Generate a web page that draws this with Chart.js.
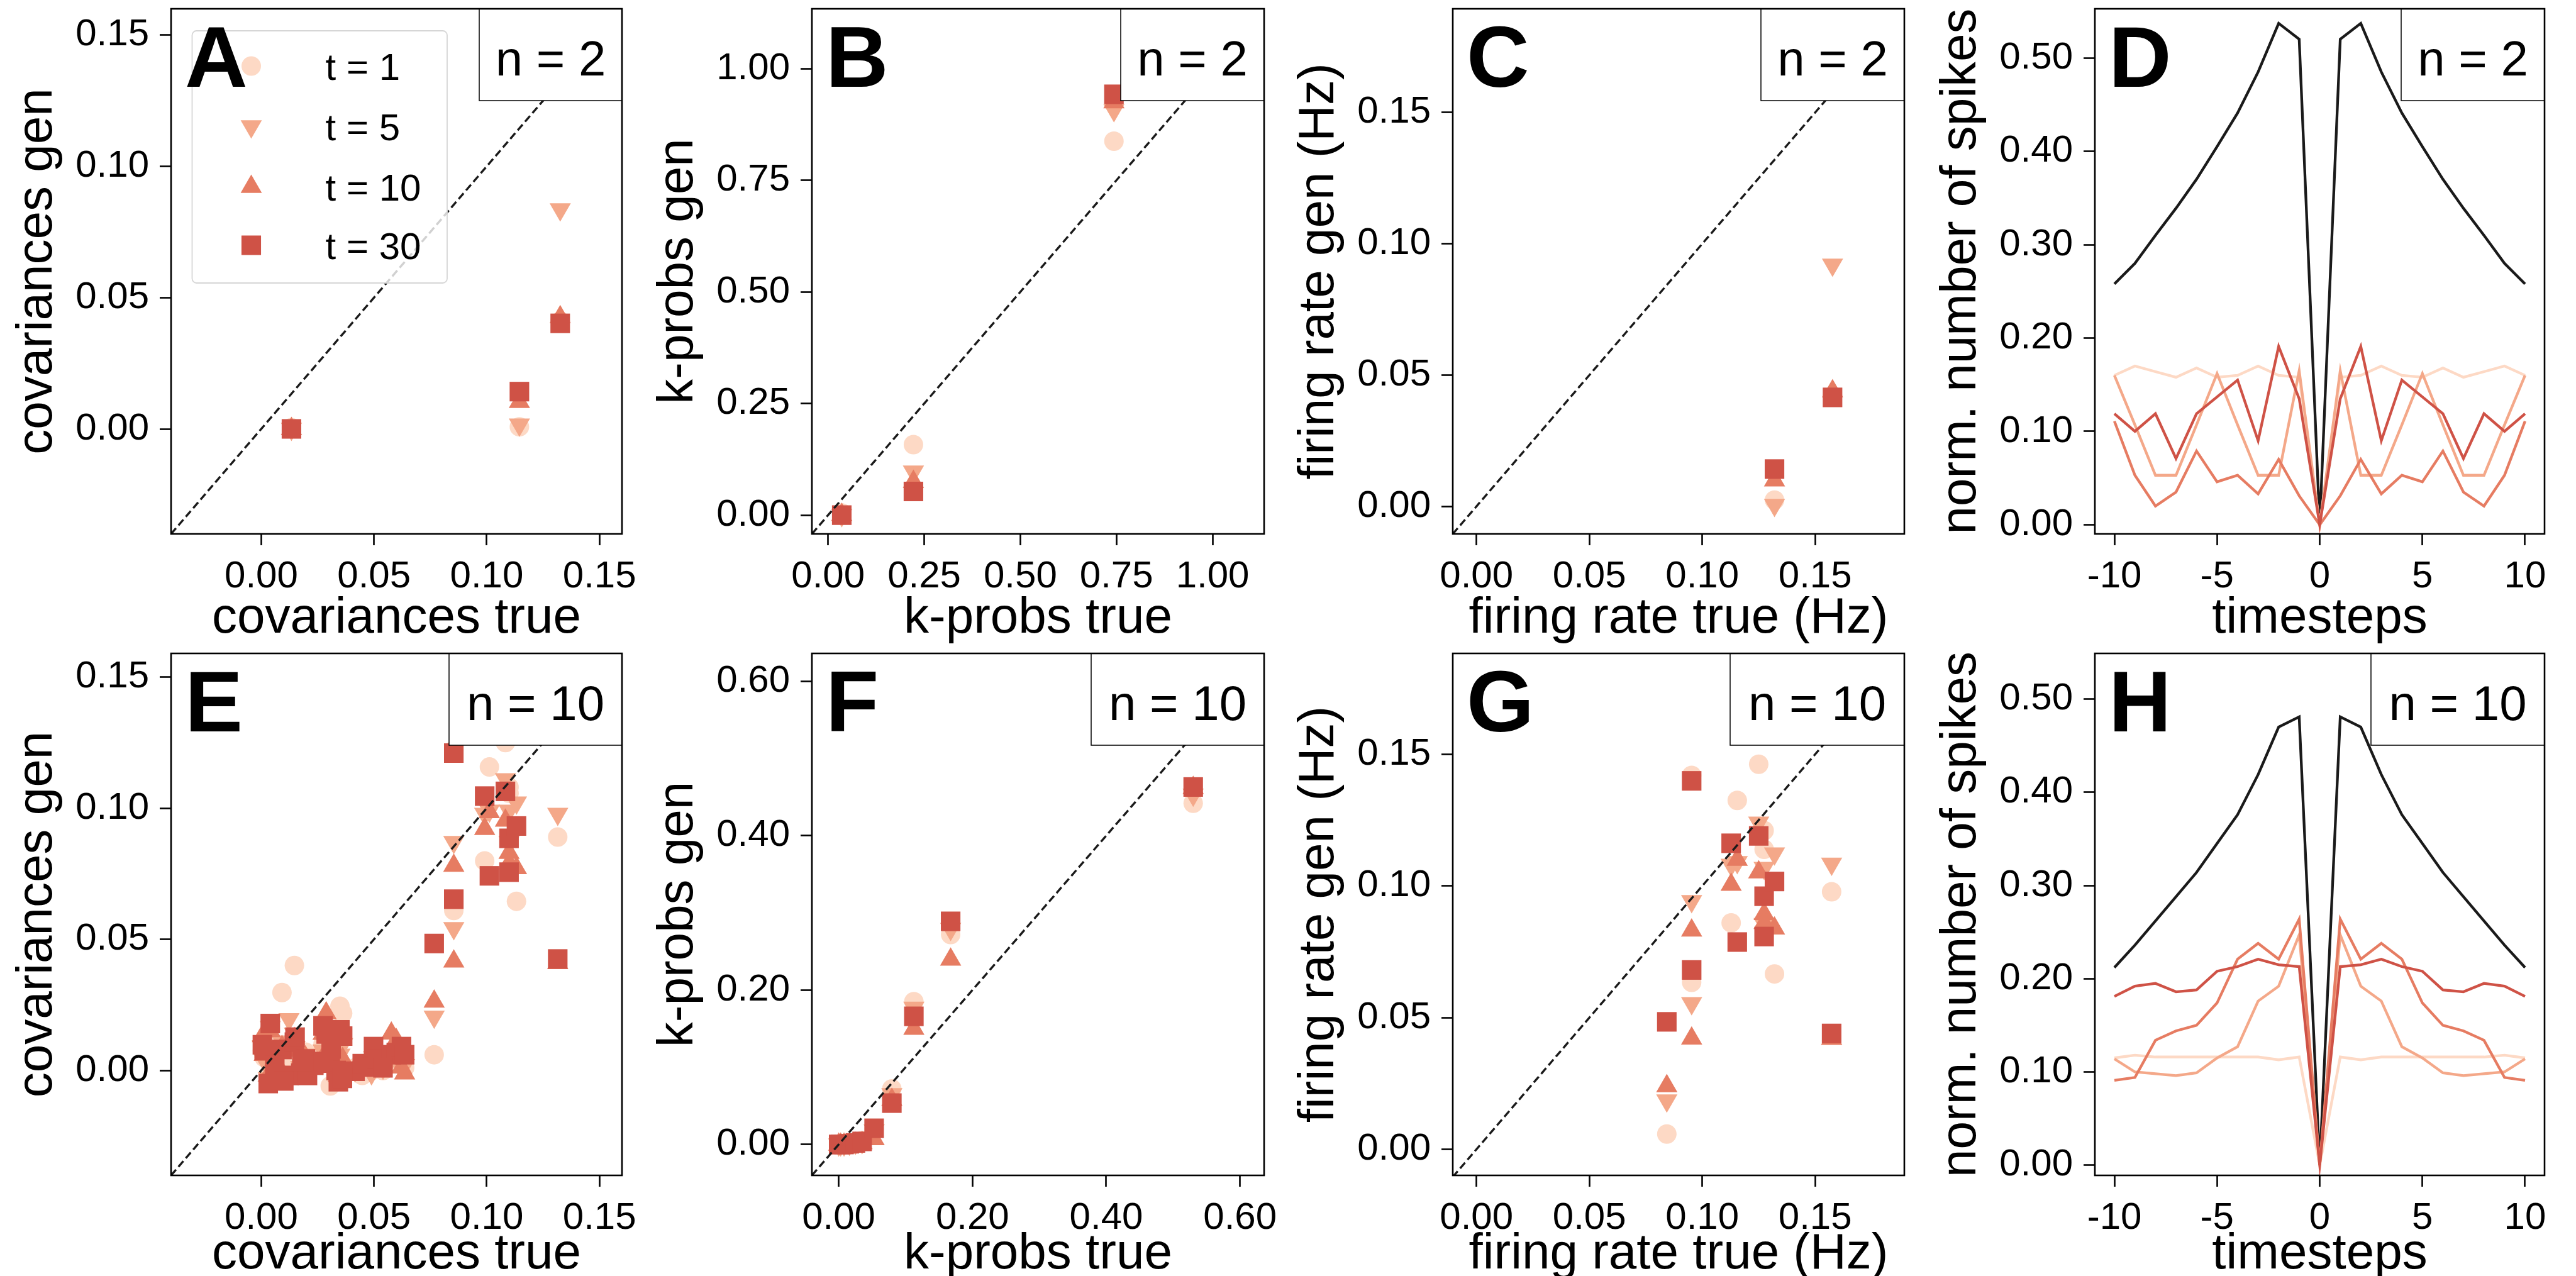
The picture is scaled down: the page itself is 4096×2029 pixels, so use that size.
<!DOCTYPE html>
<html><head><meta charset="utf-8">
<script src="https://cdn.jsdelivr.net/npm/chart.js@4.4.1/dist/chart.umd.min.js"></script>
<style>
html,body{margin:0;padding:0;background:#fff;overflow:hidden;width:4096px;height:2029px;}
#fig{position:relative;width:4096px;height:2029px;overflow:hidden;background:#fff;}
#fig canvas{position:absolute;}
</style>
</head><body><div id="fig"></div>
<script>
// ---------------- DATA ----------------
const seriesNames = ['t = 1', 't = 5', 't = 10', 't = 30'];

// Panel A: covariances, n = 2
const covTrue2   = [0.0134, 0.1145, 0.1326];
const covGen2_t1  = [0.0005, 0.0008, 0.0410];
const covGen2_t5  = [0.0000, 0.0016, 0.0836];
const covGen2_t10 = [0.0000, 0.0103, 0.0426];
const covGen2_t30 = [0.0000, 0.0142, 0.0402];

// Panel B: k-probs, n = 2
const kTrue2   = [0.0356, 0.2220, 0.7435];
const kGen2_t1  = [0.0050, 0.1580, 0.8375];
const kGen2_t5  = [0.0000, 0.0975, 0.9070];
const kGen2_t10 = [0.0010, 0.0750, 0.9250];
const kGen2_t30 = [0.0000, 0.0530, 0.9425];

// Panel C: firing rate, n = 2
const frTrue2   = [0.1320, 0.1577];
const frGen2_t1  = [0.0024, 0.0420];
const frGen2_t5  = [0.0005, 0.0920];
const frGen2_t10 = [0.0099, 0.0439];
const frGen2_t30 = [0.0142, 0.0415];

// Panel D: cross-correlation, n = 2
const timesteps = [-10,-9,-8,-7,-6,-5,-4,-3,-2,-1,0,1,2,3,4,5,6,7,8,9,10];
const ccTrue2 = [0.258,0.280,0.310,0.339,0.370,0.405,0.441,0.485,0.537,0.520,0.000,0.520,0.537,0.485,0.441,0.405,0.370,0.339,0.310,0.280,0.258];
const cc2_t1  = [0.160,0.170,0.164,0.158,0.168,0.158,0.160,0.170,0.160,0.158,0.000,0.158,0.160,0.170,0.160,0.158,0.168,0.158,0.164,0.170,0.160];
const cc2_t5  = [0.160,0.107,0.053,0.053,0.107,0.162,0.107,0.053,0.053,0.165,0.000,0.165,0.053,0.053,0.107,0.162,0.107,0.053,0.053,0.107,0.160];
const cc2_t10 = [0.111,0.053,0.020,0.035,0.079,0.046,0.053,0.033,0.070,0.031,0.000,0.031,0.070,0.033,0.053,0.046,0.079,0.035,0.020,0.053,0.111];
const cc2_t30 = [0.119,0.100,0.119,0.071,0.119,0.137,0.155,0.090,0.191,0.135,0.000,0.135,0.191,0.090,0.155,0.137,0.119,0.071,0.119,0.100,0.119];

// Panel E: covariances, n = 10 (45 pairs)
const covTrue10 = [0.0005,0.0013,0.0031,0.0040,0.0092,0.0123,0.0147,0.0175,0.0196,0.0205,0.0233,0.0274,0.0288,0.0306,0.0332,0.0342,0.0349,0.0361,0.0416,0.0448,0.0489,0.0498,0.0516,0.0577,0.0599,0.0622,0.0636,0.0767,0.0854,0.0854,0.0991,0.1012,0.1083,0.1099,0.1099,0.1132,0.1315,0.0060,0.0100,0.0150,0.0180,0.0274,0.0310,0.0360,0.0540];
const covGen10_t30 = [0.0098,0.0076,-0.0050,0.0179,0.0080,-0.0019,0.0108,-0.0010,0.0044,-0.0019,0.0020,0.0170,0.0139,0.0028,0.0000,-0.0043,0.0155,0.0131,-0.0003,0.0026,0.0013,0.0091,0.0044,0.0060,0.0068,0.0091,0.0060,0.0484,0.1210,0.0653,0.1046,0.0742,0.1064,0.0885,0.0756,0.0932,0.0425,0.0020,-0.0040,0.0127,0.0035,0.0034,0.0082,-0.0030,0.0010];
const covGen10_t10 = [0.0131,0.0060,-0.0019,0.0150,0.0090,0.0076,0.0120,0.0020,0.0050,0.0013,0.0013,0.0140,0.0218,0.0044,0.0020,-0.0020,0.0120,0.0044,0.0005,0.0005,0.0020,0.0060,0.0030,0.0141,0.0116,0.0012,-0.0011,0.0263,0.0781,0.0416,0.0921,0.0985,0.0953,0.0830,0.0790,0.0772,0.0410,0.0040,-0.0020,0.0100,0.0040,0.0050,0.0060,-0.0010,0.0020];
const covGen10_t5  = [0.0092,0.0040,-0.0030,0.0165,0.0110,0.0195,0.0140,0.0013,0.0060,0.0000,0.0030,0.0076,0.0120,0.0050,0.0010,-0.0030,0.0060,0.0100,0.0000,0.0010,-0.0011,0.0050,0.0020,0.0044,0.0044,0.0030,0.0020,0.0205,0.0871,0.0542,0.0978,0.0990,0.1110,0.0990,0.0870,0.1021,0.0978,0.0030,-0.0010,0.0090,0.0050,0.0040,0.0070,0.0000,0.0010];
const covGen10_t1  = [0.0076,0.0050,-0.0020,0.0120,0.0297,0.0040,0.0400,0.0013,0.0070,0.0000,0.0044,0.0100,0.0150,-0.0059,0.0030,-0.0040,0.0245,0.0218,0.0010,-0.0019,0.0000,0.0040,0.0028,0.0050,0.0028,0.0040,0.0010,0.0060,0.1220,0.0610,0.0799,0.1157,0.1250,0.1080,0.1057,0.0645,0.0890,0.0020,0.0000,0.0080,0.0060,0.0030,0.0050,-0.0020,0.0000];

// Panel F: k-probs, n = 10
const kTrue10 = [0.000,0.003,0.008,0.016,0.025,0.035,0.053,0.0795,0.1124,0.1674,0.530];
const kGen10_t1  = [0.000,0.000,0.001,0.002,0.003,0.005,0.020,0.072,0.185,0.272,0.442];
const kGen10_t5  = [0.000,0.000,0.000,0.001,0.002,0.003,0.018,0.065,0.177,0.279,0.453];
const kGen10_t10 = [0.000,0.000,0.000,0.000,0.001,0.002,0.007,0.058,0.150,0.2395,0.462];
const kGen10_t30 = [0.000,0.000,0.000,0.001,0.002,0.004,0.021,0.0536,0.166,0.289,0.463];

// Panel G: firing rate, n = 10
const frTrue10 = [0.0843,0.0953,0.0953,0.1128,0.1155,0.1250,0.1274,0.1274,0.1320,0.1573];
const frGen10_t1  = [0.0058,0.1420,0.0634,0.0860,0.1325,0.1462,0.1210,0.1139,0.0666,0.0978];
const frGen10_t5  = [0.0185,0.0942,0.0555,0.1080,0.1090,0.1240,0.1068,0.0855,0.1123,0.1084];
const frGen10_t10 = [0.0240,0.0831,0.0421,0.1005,0.1100,0.1052,0.0894,0.0860,0.0839,0.0420];
const frGen10_t30 = [0.0484,0.1399,0.0681,0.1162,0.0787,0.1190,0.0961,0.0808,0.1017,0.0440];

// Panel H: cross-correlation, n = 10
const ccTrue10 = [0.212,0.236,0.262,0.288,0.314,0.345,0.376,0.419,0.470,0.481,0.000,0.481,0.470,0.419,0.376,0.345,0.314,0.288,0.262,0.236,0.212];
const cc10_t1  = [0.115,0.118,0.116,0.116,0.116,0.116,0.116,0.116,0.113,0.116,0.000,0.116,0.113,0.116,0.116,0.116,0.116,0.116,0.116,0.118,0.115];
const cc10_t5  = [0.114,0.100,0.098,0.096,0.099,0.115,0.127,0.176,0.192,0.247,0.000,0.247,0.192,0.176,0.127,0.115,0.099,0.096,0.098,0.100,0.114];
const cc10_t10 = [0.091,0.094,0.134,0.144,0.150,0.174,0.221,0.238,0.221,0.264,0.000,0.264,0.221,0.238,0.221,0.174,0.150,0.144,0.134,0.094,0.091];
const cc10_t30 = [0.181,0.192,0.195,0.186,0.188,0.208,0.213,0.221,0.215,0.213,0.000,0.213,0.215,0.221,0.213,0.208,0.188,0.186,0.195,0.192,0.181];

// Tick values
const ticksCov  = [0, 0.05, 0.10, 0.15];
const ticksK2   = [0, 0.25, 0.50, 0.75, 1.00];
const ticksK10  = [0, 0.20, 0.40, 0.60];
const ticksFr   = [0, 0.05, 0.10, 0.15];
const ticksTime = [-10, -5, 0, 5, 10];
const ticksCC   = [0, 0.10, 0.20, 0.30, 0.40, 0.50];

// ---------------- STYLE ----------------
const FONT = "'Liberation Sans', Arial, Helvetica, sans-serif";
const tColors = ['#fdd9c5', '#f4a889', '#e67c62', '#cf5246'];
const trueColor = '#1a1a1a';
const pStyles = ['circle', 'triangle', 'triangle', 'rect'];
const pRot = [0, 180, 0, 0];
const pRad = [15.5, 19.5, 19.5, 22];

const YW = 270, PT = 14, PR = 70, XH = 190;
const colL = [272, 1291, 2310, 3331];
const colR = [989, 2010, 3028, 4046];
const rowT = [14, 1039];
const rowB = [849, 1869];
const xTitlePad = [7, 16];
const BOXH = 146;
const AXW = 2.6;

const fig = document.getElementById('fig');

const decor = {
  id: 'decor',
  afterDatasetsDraw(chart, args, o) {
    const ctx = chart.ctx, a = chart.chartArea;
    ctx.save();
    if (o.legend) {
      const lx0 = a.left + 33.5, ly0 = a.top + 35, lx1 = a.left + 439, ly1 = a.top + 436;
      ctx.beginPath();
      if (ctx.roundRect) ctx.roundRect(lx0, ly0, lx1 - lx0, ly1 - ly0, 7); else ctx.rect(lx0, ly0, lx1 - lx0, ly1 - ly0);
      ctx.fillStyle = 'rgba(255,255,255,0.8)';
      ctx.fill();
      ctx.lineWidth = 1.8; ctx.strokeStyle = '#d6d6d6'; ctx.stroke();
      const ys = [91, 187, 283, 376];
      for (let i = 0; i < 4; i++) {
        ctx.fillStyle = tColors[i];
        ctx.strokeStyle = tColors[i];
        Chart.helpers.drawPoint(ctx, {pointStyle: pStyles[i], rotation: pRot[i], radius: pRad[i], borderWidth: 0}, a.left + 127.5, a.top + ys[i]);
        ctx.fillStyle = '#000';
        ctx.font = '60px ' + FONT;
        ctx.textAlign = 'left'; ctx.textBaseline = 'alphabetic';
        ctx.fillText(seriesNames[i], a.left + 245.6, a.top + ys[i] + 21.5);
      }
    }
    // n box
    const bx = a.right - o.boxW, by = a.top;
    ctx.fillStyle = '#fff';
    ctx.fillRect(bx, by, o.boxW, BOXH);
    ctx.lineWidth = 1.5; ctx.strokeStyle = '#000';
    ctx.strokeRect(bx, by, o.boxW, BOXH);
    ctx.fillStyle = '#000';
    ctx.font = '78px ' + FONT;
    ctx.textAlign = 'center'; ctx.textBaseline = 'alphabetic';
    ctx.fillText(o.nText, bx + o.boxW / 2, by + 106);
    // panel letter
    ctx.font = 'bold 138px ' + FONT;
    ctx.textAlign = 'left';
    ctx.fillText(o.letter, a.left + 22, a.top + 124);
    // frame
    ctx.lineWidth = AXW; ctx.strokeStyle = '#000';
    ctx.strokeRect(a.left, a.top, a.right - a.left, a.bottom - a.top);
    ctx.restore();
  }
};

function axis(isX, range, ticks, fmt, title, tPad) {
  return {
    type: 'linear', position: isX ? 'bottom' : 'left', min: range[0], max: range[1],
    afterBuildTicks: s => { s.ticks = ticks.map(v => ({value: v})); },
    afterFit: s => {
      if (isX) s.height = XH; else s.width = YW;
      s.paddingTop = 0; s.paddingBottom = 0; s.paddingLeft = 0; s.paddingRight = 0;
    },
    grid: {drawOnChartArea: false, drawTicks: true, tickLength: 18, tickWidth: AXW, tickColor: '#000'},
    border: {display: false},
    ticks: {callback: v => fmt(v), color: '#000', font: {family: FONT, size: 60}, padding: isX ? 14 : 17,
            autoSkip: false, maxRotation: 0, minRotation: 0},
    title: {display: true, text: title, color: '#000', font: {family: FONT, size: 80, lineHeight: 1.2},
            padding: isX ? {top: 0, bottom: tPad} : {top: tPad, bottom: 0}}
  };
}

const f2 = v => Number(v).toFixed(2);
const f0 = v => String(v);

function pts(xs, ys) { return xs.map((x, i) => ({x: x, y: ys[i]})); }

function scatterSets(xs, yss) {
  return yss.map((ys, i) => ({
    label: seriesNames[i], data: pts(xs, ys), showLine: false,
    pointStyle: pStyles[i], pointRotation: pRot[i], pointRadius: pRad[i],
    pointBackgroundColor: tColors[i], pointBorderColor: tColors[i], pointBorderWidth: 0,
    order: 4 - i
  }));
}
function diagSet(lo, hi) {
  return {label: 'identity', data: [{x: lo, y: lo}, {x: hi, y: hi}], showLine: true, pointRadius: 0,
          borderColor: '#1a1a1a', borderWidth: 3.4, borderDash: [12, 6], order: 0};
}
function lineSets(xs, trueYs, yss) {
  const sets = [{label: 'true', data: pts(xs, trueYs), showLine: true, pointRadius: 0, borderColor: trueColor, borderWidth: 4.3, order: 10}];
  yss.forEach((ys, i) => sets.push({label: seriesNames[i], data: pts(xs, ys), showLine: true, pointRadius: 0,
    borderColor: tColors[i], borderWidth: 4.3, order: 4 - i}));
  return sets;
}

function makePanel(p) {
  const L = colL[p.col], R = colR[p.col], T = rowT[p.row], B = rowB[p.row];
  const w = YW + (R - L) + PR, h = PT + (B - T) + XH;
  const c = document.createElement('canvas');
  c.width = w; c.height = h;
  c.style.left = (L - YW) + 'px'; c.style.top = (T - PT) + 'px';
  c.style.width = w + 'px'; c.style.height = h + 'px';
  fig.appendChild(c);
  new Chart(c, {
    type: 'scatter',
    data: {datasets: p.datasets},
    options: {
      responsive: false, animation: false, devicePixelRatio: 1,
      layout: {padding: {left: 0, top: PT, right: PR, bottom: 0}, autoPadding: false},
      scales: {
        x: axis(true, p.xr, p.xt, p.xf, p.xTitle, xTitlePad[p.row]),
        y: axis(false, p.yr, p.yt, p.yf, p.yTitle, 10)
      },
      plugins: {legend: {display: false}, tooltip: {enabled: false},
                decor: {letter: p.letter, nText: p.nText, boxW: p.boxW, legend: !!p.legend}}
    },
    plugins: [decor]
  });
}

const rCov = [-0.04, 0.16], rK2 = [-0.042, 1.134], rFr = [-0.0105, 0.1895], rK10 = [-0.04, 0.636];

const panels = [
  {letter: 'A', col: 0, row: 0, nText: 'n = 2', boxW: 227, legend: true,
   xr: rCov, yr: rCov, xt: ticksCov, yt: ticksCov, xf: f2, yf: f2,
   xTitle: 'covariances true', yTitle: 'covariances gen',
   datasets: scatterSets(covTrue2, [covGen2_t1, covGen2_t5, covGen2_t10, covGen2_t30]).concat([diagSet(rCov[0], rCov[1])])},
  {letter: 'B', col: 1, row: 0, nText: 'n = 2', boxW: 228,
   xr: rK2, yr: rK2, xt: ticksK2, yt: ticksK2, xf: f2, yf: f2,
   xTitle: 'k-probs true', yTitle: 'k-probs gen',
   datasets: scatterSets(kTrue2, [kGen2_t1, kGen2_t5, kGen2_t10, kGen2_t30]).concat([diagSet(rK2[0], rK2[1])])},
  {letter: 'C', col: 2, row: 0, nText: 'n = 2', boxW: 228,
   xr: rFr, yr: rFr, xt: ticksFr, yt: ticksFr, xf: f2, yf: f2,
   xTitle: 'firing rate true (Hz)', yTitle: 'firing rate gen (Hz)',
   datasets: scatterSets(frTrue2, [frGen2_t1, frGen2_t5, frGen2_t10, frGen2_t30]).concat([diagSet(rFr[0], rFr[1])])},
  {letter: 'D', col: 3, row: 0, nText: 'n = 2', boxW: 228,
   xr: [-10.95, 10.95], yr: [-0.0098, 0.5526], xt: ticksTime, yt: ticksCC, xf: f0, yf: f2,
   xTitle: 'timesteps', yTitle: 'norm. number of spikes',
   datasets: lineSets(timesteps, ccTrue2, [cc2_t1, cc2_t5, cc2_t10, cc2_t30])},
  {letter: 'E', col: 0, row: 1, nText: 'n = 10', boxW: 275,
   xr: rCov, yr: [-0.04, 0.159], xt: ticksCov, yt: ticksCov, xf: f2, yf: f2,
   xTitle: 'covariances true', yTitle: 'covariances gen',
   datasets: scatterSets(covTrue10, [covGen10_t1, covGen10_t5, covGen10_t10, covGen10_t30]).concat([diagSet(rCov[0], rCov[1])])},
  {letter: 'F', col: 1, row: 1, nText: 'n = 10', boxW: 275,
   xr: rK10, yr: rK10, xt: ticksK10, yt: ticksK10, xf: f2, yf: f2,
   xTitle: 'k-probs true', yTitle: 'k-probs gen',
   datasets: scatterSets(kTrue10, [kGen10_t1, kGen10_t5, kGen10_t10, kGen10_t30]).concat([diagSet(rK10[0], rK10[1])])},
  {letter: 'G', col: 2, row: 1, nText: 'n = 10', boxW: 277,
   xr: rFr, yr: [-0.0099, 0.1883], xt: ticksFr, yt: ticksFr, xf: f2, yf: f2,
   xTitle: 'firing rate true (Hz)', yTitle: 'firing rate gen (Hz)',
   datasets: scatterSets(frTrue10, [frGen10_t1, frGen10_t5, frGen10_t10, frGen10_t30]).concat([diagSet(rFr[0], rFr[1])])},
  {letter: 'H', col: 3, row: 1, nText: 'n = 10', boxW: 276,
   xr: [-10.95, 10.95], yr: [-0.011, 0.549], xt: ticksTime, yt: ticksCC, xf: f0, yf: f2,
   xTitle: 'timesteps', yTitle: 'norm. number of spikes',
   datasets: lineSets(timesteps, ccTrue10, [cc10_t1, cc10_t5, cc10_t10, cc10_t30])}
];

panels.forEach(makePanel);
</script>
</body></html>
